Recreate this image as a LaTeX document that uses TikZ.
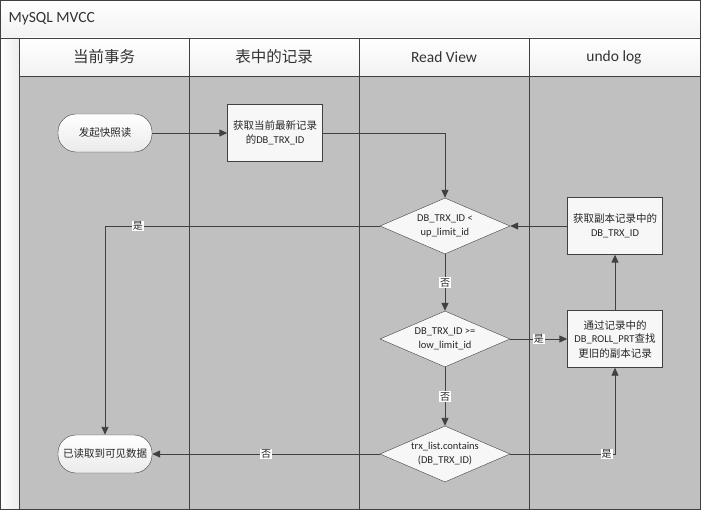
\documentclass[tikz,border=0pt]{standalone}
\usepackage{fontspec}
\setmainfont{Carlito}
\newfontfamily\cjk{Noto Sans CJK SC}
\usetikzlibrary{shapes.geometric,arrows.meta}

\definecolor{lanegray}{HTML}{C0C0C0}
\definecolor{linegray}{HTML}{404040}
\definecolor{paper}{HTML}{F2F2F2}
\newcommand{\nodefont}{\fontsize{10.5}{14}\selectfont}
\newcommand{\hdrfont}{\fontsize{15.5}{18}\selectfont}

\tikzset{
  term/.style={draw=linegray, rounded corners=18pt, minimum width=94pt, minimum height=38pt,
    top color=white, bottom color=black!8, align=center, font=\nodefont, text=black!85},
  proc/.style={draw=linegray, fill=white!97!black, minimum width=95pt, minimum height=57pt,
    align=center, font=\nodefont, text=black!85},
  dec/.style={draw=linegray, fill=white!97!black, diamond, aspect=2.32, minimum width=130pt,
    minimum height=56pt, inner sep=-3pt, align=center, font=\nodefont, text=black!85},
  lbl/.style={fill=white, inner sep=1pt, font=\cjk\fontsize{10}{12}\selectfont, text=black!85},
  flow/.style={draw=linegray, line width=0.9pt, -{Triangle[length=8pt,width=7pt]}},
  hdr/.style={font=\hdrfont, text=black!80},
}

\begin{document}
\begin{tikzpicture}[x=1pt,y=-1pt]
\useasboundingbox (0,0) rectangle (701,510);

% bands
\shade[top color=white, bottom color=paper] (0,0) rectangle (700,38);
\shade[left color=white, right color=black!7] (0,38) rectangle (19,509);
\shade[top color=white, bottom color=paper] (19,38) rectangle (700,76);
\fill[lanegray] (19,76) rectangle (700,509);

% frame and lanes
\draw[linegray, line width=0.8pt] (0.5,0.5) rectangle (700,509);
\draw[linegray, line width=0.8pt] (0,38) -- (700,38);
\draw[linegray, line width=0.8pt] (19,76) -- (700,76);
\foreach \x in {19,189,359,529}
  \draw[linegray, line width=0.8pt] (\x,38) -- (\x,509);

\node[anchor=west, hdr] (title) at (5,19) {MySQL MVCC};
\node[hdr] (trx) at (104,57) {\cjk 当前事务};
\node[hdr] (tbl) at (274,57) {\cjk 表中的记录};
\node[hdr] (view) at (444,57) {Read View};
\node[hdr] (undo) at (614,57) {undo log};

% steps
\node[term] (start) at (105,133) {\cjk 发起快照读};
\node[proc] (rec) at (275,133) {{\cjk 获取当前最新记录}\\{\cjk 的}DB\_TRX\_ID};
\node[dec] (up) at (445,226) {DB\_TRX\_ID <\\up\_limit\_id};
\node[proc] (copy) at (615,226) {{\cjk 获取副本记录中的}\\DB\_TRX\_ID};
\node[dec] (low) at (445,339) {DB\_TRX\_ID >=\\low\_limit\_id};
\node[proc] (roll) at (615,339) {{\cjk 通过记录中的}\\DB\_ROLL\_PRT{\cjk 查找}\\{\cjk 更旧的副本记录}};
\node[dec] (act) at (445,454) {trx\_list.contains\\(DB\_TRX\_ID)};
\node[term] (read) at (105,454) {\cjk 已读取到可见数据};

% arrows
\draw[flow] (start) -- (rec);
\draw[flow] (rec.east) -| (up.north);
\draw[flow] (copy) -- (up);
\draw[flow] (up.west) -| node[lbl,pos=0.44] {是} (read.north);
\draw[flow] (up) -- node[lbl] {否} (low);
\draw[flow] (low) -- node[lbl] {是} (roll);
\draw[flow] (low) -- node[lbl] {否} (act);
\draw[flow] (act) -- node[lbl] {否} (read);
\draw[flow] (act.east) -| node[lbl,pos=0.46] {是} (roll.south);
\draw[flow] (roll) -- (copy);
\end{tikzpicture}
\end{document}
